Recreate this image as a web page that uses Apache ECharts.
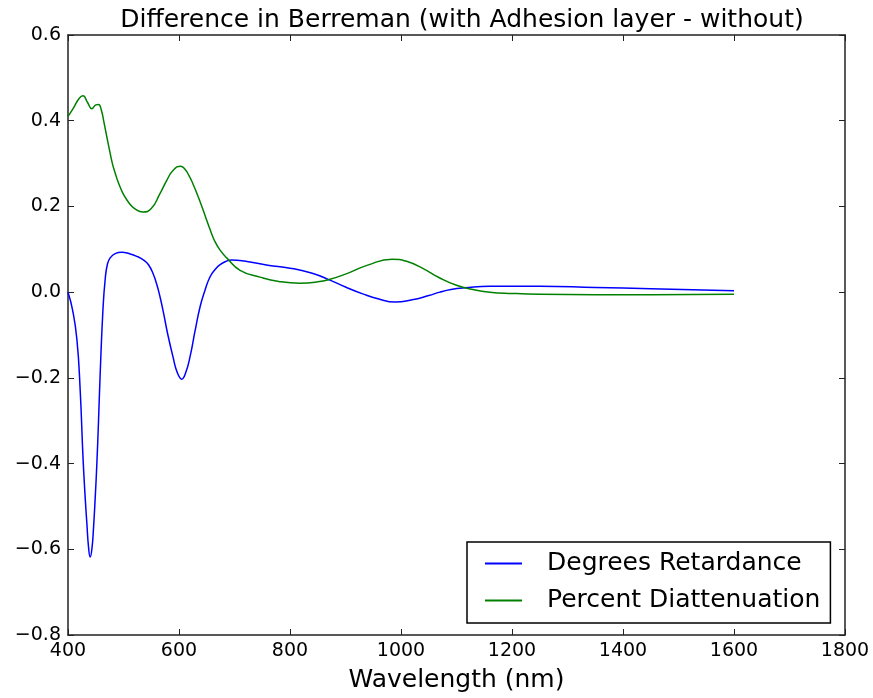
<!DOCTYPE html>
<html>
<head>
<meta charset="utf-8">
<script src="https://cdn.jsdelivr.net/npm/echarts@6/dist/echarts.min.js"></script>
<style>
  html, body { margin: 0; padding: 0; background: #fff; }
  #chart { width: 873px; height: 698px; }
</style>
</head>
<body>
<div id="chart"></div>
<script>
// Difference between Berreman model results with and without the adhesion layer
const retardWavelength = [400, 408, 416, 422, 427, 431, 434, 437, 440, 443, 446, 449, 452, 455, 458, 463, 467, 471, 476, 485, 497, 510, 525, 537, 545, 553, 560, 566, 572, 580, 589, 597, 605, 612, 620, 629, 638, 647, 656, 665, 674, 685, 695, 720, 760, 800, 840, 872, 900, 931, 960, 989, 1020, 1050, 1070, 1090, 1115, 1160, 1250, 1350, 1450, 1600];
const retardance = [0.0, -0.04, -0.11, -0.23, -0.385, -0.48, -0.54, -0.595, -0.618, -0.6, -0.55, -0.48, -0.40, -0.30, -0.19, -0.04, 0.03, 0.065, 0.08, 0.09, 0.093, 0.09, 0.083, 0.074, 0.064, 0.044, 0.018, -0.012, -0.048, -0.10, -0.15, -0.188, -0.203, -0.188, -0.15, -0.09, -0.034, 0.005, 0.036, 0.053, 0.064, 0.072, 0.075, 0.072, 0.063, 0.056, 0.044, 0.028, 0.012, -0.004, -0.016, -0.023, -0.018, -0.008, 0.0, 0.006, 0.01, 0.014, 0.014, 0.011, 0.008, 0.003];

const diattWavelength = [400, 410, 420, 427, 435, 443, 450, 455, 460, 465, 470, 475, 480, 485, 490, 495, 500, 510, 520, 535, 550, 565, 578, 590, 603, 610, 618, 625, 632, 640, 648, 656, 664, 674, 686, 710, 746, 780, 818, 850, 872, 900, 940, 984, 1010, 1040, 1070, 1100, 1130, 1160, 1200, 1250, 1350, 1450, 1600];
const diattenuation = [0.41, 0.43, 0.452, 0.458, 0.443, 0.428, 0.437, 0.438, 0.425, 0.395, 0.362, 0.33, 0.30, 0.278, 0.258, 0.242, 0.228, 0.208, 0.195, 0.187, 0.195, 0.228, 0.261, 0.285, 0.294, 0.288, 0.272, 0.253, 0.231, 0.204, 0.175, 0.146, 0.12, 0.098, 0.08, 0.051, 0.035, 0.025, 0.021, 0.024, 0.03, 0.042, 0.063, 0.077, 0.072, 0.055, 0.033, 0.016, 0.006, 0.0, -0.003, -0.005, -0.006, -0.006, -0.005];

const seriesNames = ['Degrees Retardance', 'Percent Diattenuation'];
const seriesColors = ['#0000ff', '#008000'];

const xTicks = { min: 400, max: 1800, interval: 200 };
const yTicks = { min: -0.8, max: 0.6, interval: 0.2 };

const FONT = 'DejaVu Sans';
const fmtY = v => v.toFixed(1).replace('-', '\u2212');
const fmtX = v => String(Math.round(v));

const pair = (xs, ys) => xs.map((x, i) => [x, ys[i]]);

const chart = echarts.init(document.getElementById('chart'), null, { renderer: 'canvas' });

const axisCommon = {
  axisLine: { show: true, onZero: false, lineStyle: { color: '#222', width: 1.5 } },
  axisTick: { show: true, inside: true, length: 6, lineStyle: { color: '#222', width: 1 } },
  splitLine: { show: false }
};

chart.setOption({
  backgroundColor: '#fff',
  animation: false,
  title: {
    text: 'Difference in Berreman (with Adhesion layer - without)',
    left: 457,
    textAlign: 'center',
    top: 3,
    textStyle: { fontFamily: FONT, fontSize: 25, fontWeight: 'normal', color: '#000' }
  },
  grid: { left: 68, right: 28, top: 35, bottom: 63, containLabel: false },
  legend: {
    orient: 'vertical',
    left: 467,
    top: 542,
    padding: [9, 10, 10, 18],
    itemGap: 12,
    itemWidth: 37,
    itemHeight: 2,
    icon: 'rect',
    borderColor: '#000',
    borderWidth: 1.5,
    textStyle: { fontFamily: FONT, fontSize: 25, color: '#000', padding: [0, 0, 0, 20] },
    data: seriesNames
  },
  xAxis: [
    Object.assign({}, axisCommon, {
      type: 'value', position: 'bottom',
      min: xTicks.min, max: xTicks.max, interval: xTicks.interval,
      name: 'Wavelength (nm)', nameLocation: 'middle', nameGap: 33,
      nameTextStyle: { fontFamily: FONT, fontSize: 25, color: '#000' },
      axisLabel: { fontFamily: FONT, fontSize: 19, color: '#000', margin: 7, formatter: fmtX }
    }),
    Object.assign({}, axisCommon, {
      type: 'value', position: 'top',
      min: xTicks.min, max: xTicks.max, interval: xTicks.interval,
      axisLabel: { show: false }
    })
  ],
  yAxis: [
    Object.assign({}, axisCommon, {
      type: 'value', position: 'left',
      min: yTicks.min, max: yTicks.max, interval: yTicks.interval,
      axisLabel: { fontFamily: FONT, fontSize: 19, color: '#000', margin: 7, formatter: fmtY }
    }),
    Object.assign({}, axisCommon, {
      type: 'value', position: 'right',
      min: yTicks.min, max: yTicks.max, interval: yTicks.interval,
      axisLabel: { show: false }
    })
  ],
  series: [
    {
      name: seriesNames[0], type: 'line', data: pair(retardWavelength, retardance),
      smooth: 0.5, showSymbol: false, symbol: 'none',
      lineStyle: { color: seriesColors[0], width: 1.5 }, itemStyle: { color: seriesColors[0] }
    },
    {
      name: seriesNames[1], type: 'line', data: pair(diattWavelength, diattenuation),
      smooth: 0.5, showSymbol: false, symbol: 'none',
      lineStyle: { color: seriesColors[1], width: 1.5 }, itemStyle: { color: seriesColors[1] }
    }
  ]
});
</script>
</body>
</html>
